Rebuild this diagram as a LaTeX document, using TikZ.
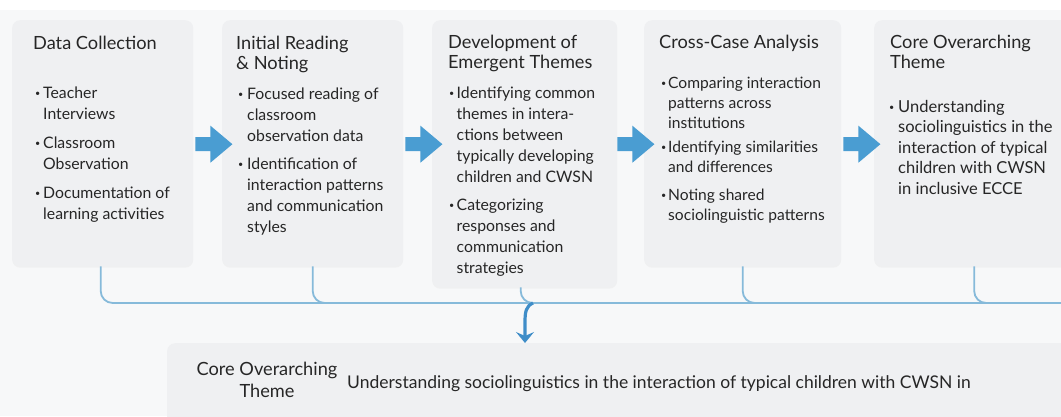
\documentclass[tikz,border=0pt]{standalone}
\usepackage{fontspec}
\setmainfont{Lato}
\usetikzlibrary{arrows.meta,calc,shadows}

\definecolor{pagebg}{HTML}{F7F8F9}
\definecolor{cardfill}{HTML}{EFF0F2}
\definecolor{flowblue}{HTML}{4A9DD2}
\definecolor{busblue}{HTML}{86BADA}
\definecolor{dropblue}{HTML}{3F8DC8}
\definecolor{ink}{HTML}{262626}

% small bullet mark used in the card lists
\newcommand\dotmark{\raisebox{1.6pt}{\fontsize{9}{9}\selectfont •}}

\begin{document}
\begin{tikzpicture}[x=1pt,y=-1pt,
  card/.style={fill=cardfill, rounded corners=8pt, anchor=north west, inner sep=0pt,
               drop shadow={opacity=0.06, shadow xshift=0pt, shadow yshift=-1.5pt}},
  cardtitle/.style={anchor=base west, inner sep=0pt, text=ink,
               font=\fontsize{18.2}{20}\selectfont},
  cardlist/.style={anchor=base west, inner sep=0pt, text=ink,
               font=\fontsize{15.8}{21}\selectfont},
  feed/.style={draw=busblue, line width=1.8pt, rounded corners=12pt},
  drop/.style={draw=dropblue, line width=3.2pt, -{Stealth[length=11pt,width=18pt,inset=4pt]}},
  flowarrow/.pic={\fill[flowblue] (0,-7) -- (15,-7) -- (15,-18.5) -- (37,0)
                   -- (15,18.5) -- (15,7) -- (0,7) -- cycle;}
]
\useasboundingbox (0,0) rectangle (1061,416);
\clip (0,0) rectangle (1061,416);
\fill[white] (0,0) rectangle (1061,416);
\fill[pagebg] (0,10) rectangle (1061,416);

% ---- process cards ----
\node[card, minimum width=181pt, minimum height=246pt] (b1) at (12,20) {};
\node[card, minimum width=181pt, minimum height=246pt] (b2) at (222,20) {};
\node[card, minimum width=185pt, minimum height=267pt] (b3) at (432,20) {};
\node[card, minimum width=197pt, minimum height=246pt] (b4) at (644,20) {};
\node[card, minimum width=210pt, minimum height=246pt] (b5) at (874,20) {};

% ---- card texts ----
\node[cardtitle] (t1) at (33,49) {Data Collection};
\node[cardlist] (l1) at (35,98) {\begin{tabular}[t]{@{}p{8pt}@{}l@{}}
  \dotmark & Teacher\\ & Interviews\\[8pt]
  \dotmark & Classroom\\ & Observation\\[8pt]
  \dotmark & Documentation of\\ & learning activities
\end{tabular}};

\node[cardtitle] (t2) at (236,49) {\begin{tabular}[t]{@{}l@{}}Initial Reading\\\& Noting\end{tabular}};
\node[cardlist] (l2) at (238,99) {\begin{tabular}[t]{@{}p{9pt}@{}l@{}}
  \dotmark & Focused reading of\\ & classroom\\ & observation data\\[7pt]
  \dotmark & Identification of\\ & interaction patterns\\ & and communication\\ & styles
\end{tabular}};

\node[cardtitle] (t3) at (448,48) {\begin{tabular}[t]{@{}l@{}}Development of\\Emergent Themes\end{tabular}};
\node[cardlist] (l3) at (449,98) {\begin{tabular}[t]{@{}p{7.5pt}@{}l@{}}
  \dotmark & Identifying common\\ & themes in intera-\\ & ctions between\\
           & typically developing\\ & children and CWSN\\[7pt]
  \dotmark & Categorizing\\ & responses and\\ & communication\\ & strategies
\end{tabular}};

\node[cardtitle] (t4) at (659,48) {Cross-Case Analysis};
\node[cardlist, font=\fontsize{15.6}{20}\selectfont] (l4) at (661,88) {\begin{tabular}[t]{@{}p{7pt}@{}l@{}}
  \dotmark & Comparing interaction\\ & patterns across\\ & institutions\\[4pt]
  \dotmark & Identifying similarities\\ & and differences\\[8pt]
  \dotmark & Noting shared\\ & sociolinguistic patterns
\end{tabular}};

\node[cardtitle] (t5) at (890,48) {\begin{tabular}[t]{@{}l@{}}Core Overarching\\Theme\end{tabular}};
\node[cardlist, font=\fontsize{16.5}{20.5}\selectfont] (l5) at (889,112) {\begin{tabular}[t]{@{}p{9pt}@{}l@{}}
  \dotmark & Understanding\\ & sociolinguistics in the\\ & interaction of typical\\
           & children with CWSN\\ & in inclusive ECCE
\end{tabular}};

% ---- flow arrows between cards ----
\pic at ($(b1.east)+(2,1)$) {flowarrow};
\pic at ($(b2.east)+(2,1)$) {flowarrow};
\pic at ($(b3.east |- b4.east)+(0,1)$) {flowarrow};
\pic at ($(b4.east)+(2,1)$) {flowarrow};

% ---- collecting bus ----
\coordinate (busR) at (1080,303);
\coordinate (join) at (533,303);
\draw[feed] ([xshift=-2pt]b1.south) |- (busR);
\draw[feed] (b2.south) |- (busR);
\draw[feed] ([xshift=-4pt]b3.south) |- (busR);
\draw[feed] (b4.south) |- (busR);
\draw[feed] ([xshift=-5pt]b5.south) |- (busR);

% ---- summary card ----
\node[card, minimum width=920pt, minimum height=90pt] (core) at (167,343) {};
\draw[drop] (join) .. controls (526,306) and (525,312) .. (525,322) -- (core.north -| 525,0);
\node[anchor=base, inner sep=0pt, text=ink, font=\fontsize{18.2}{22}\selectfont] (coretitle) at (267,375)
  {\begin{tabular}[t]{@{}c@{}}Core Overarching\\Theme\end{tabular}};
\node[anchor=base west, inner sep=0pt, text=ink, font=\fontsize{17.5}{20}\selectfont] (coretext) at (347,388)
  {Understanding sociolinguistics in the interaction of typical children with CWSN in};
\end{tikzpicture}
\end{document}
